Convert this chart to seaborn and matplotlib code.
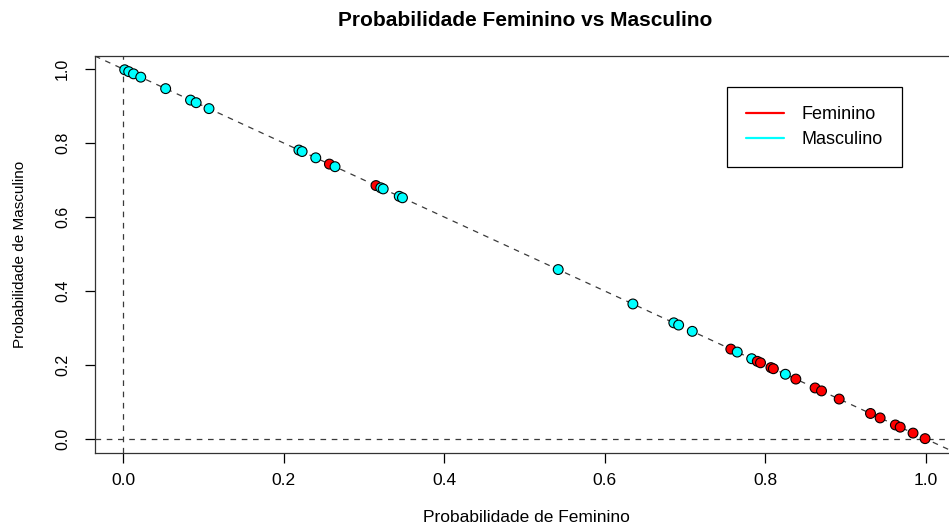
import matplotlib
matplotlib.use("Agg")
import matplotlib.pyplot as plt
from matplotlib.lines import Line2D
import numpy as np
import pandas as pd
import seaborn as sns

# Predicted probabilities per observation, split by observed class
fem_prob_f = [0.257, 0.315, 0.757, 0.790, 0.794, 0.807, 0.810, 0.838, 0.862,
              0.870, 0.892, 0.931, 0.943, 0.962, 0.968, 0.984, 0.999]
masc_prob_f = [0.743, 0.685, 0.243, 0.210, 0.206, 0.193, 0.190, 0.162, 0.138,
               0.130, 0.108, 0.069, 0.057, 0.038, 0.032, 0.016, 0.001]

fem_prob_m = [0.002, 0.007, 0.013, 0.022, 0.053, 0.084, 0.091, 0.107, 0.219,
              0.223, 0.240, 0.264, 0.321, 0.324, 0.344, 0.348, 0.542, 0.635,
              0.686, 0.692, 0.709, 0.765, 0.783, 0.825]
masc_prob_m = [0.998, 0.993, 0.987, 0.978, 0.947, 0.916, 0.909, 0.893, 0.781,
               0.777, 0.760, 0.736, 0.679, 0.676, 0.656, 0.652, 0.458, 0.365,
               0.314, 0.308, 0.291, 0.235, 0.217, 0.175]

classes = ["Feminino", "Masculino"]
colors = {"Feminino": "red", "Masculino": "cyan"}
x_ticks = [0.0, 0.2, 0.4, 0.6, 0.8, 1.0]
y_ticks = [0.0, 0.2, 0.4, 0.6, 0.8, 1.0]

df = pd.concat([
    pd.DataFrame({"fem": fem_prob_f, "masc": masc_prob_f, "sexo": "Feminino"}),
    pd.DataFrame({"fem": fem_prob_m, "masc": masc_prob_m, "sexo": "Masculino"}),
]).sort_values("fem").reset_index(drop=True)

sns.set_style("white")
plt.rcParams["font.family"] = ["Liberation Sans", "DejaVu Sans"]
plt.rcParams["text.color"] = "black"
plt.rcParams["axes.labelcolor"] = "black"
plt.rcParams["xtick.color"] = "black"
plt.rcParams["ytick.color"] = "black"

fig = plt.figure(figsize=(9.49, 5.26), dpi=100)
W, H = 949, 526
left, right, top, bottom = 95, 958, 55.7, 452.7
ax = fig.add_axes([left / W, 1 - bottom / H, (right - left) / W, (bottom - top) / H])

# reference lines
ax.axline((0, 1), slope=-1, color="#3a3a3a", lw=0.9, dashes=(4.5, 4.5), zorder=1)
ax.axvline(0, color="#3a3a3a", lw=0.9, dashes=(4.5, 4.5), zorder=1)
ax.axhline(0, color="#3a3a3a", lw=0.9, dashes=(4.5, 4.5), zorder=1)

sns.scatterplot(data=df, x="fem", y="masc", hue="sexo", hue_order=classes,
                palette=colors, s=50, edgecolor="black", linewidth=0.8,
                legend=False, ax=ax, zorder=3)

ax.set_xlim(-0.035, 1.04)
ax.set_ylim(-0.037, 1.036)
ax.set_xticks(x_ticks)
ax.set_yticks(y_ticks)
ax.set_xticklabels([f"{v:.1f}" for v in x_ticks], fontsize=12.5)
ax.set_yticklabels([f"{v:.1f}" for v in y_ticks], fontsize=11.5, rotation=90, va="center")
ax.tick_params(axis="both", direction="out", length=7, width=0.9, color="black",
               bottom=True, left=True)
ax.tick_params(axis="x", pad=7.5)
ax.tick_params(axis="y", pad=11)
for s in ax.spines.values():
    s.set_color("#333333")
    s.set_linewidth(0.9)

ax.set_xlabel("Probabilidade de Feminino", fontsize=12.5, labelpad=16)
ax.set_ylabel("Probabilidade de Masculino", fontsize=11, labelpad=20)
fig.text(525 / W, 1 - 20 / H, "Probabilidade Feminino vs Masculino",
         ha="center", va="center", fontsize=15, fontweight="bold")

handles = [Line2D([0], [0], color=colors[c], lw=1.6) for c in classes]
leg = ax.legend(handles, classes, loc="upper left",
                bbox_to_anchor=(727 / W, 1 - 87 / H), bbox_transform=fig.transFigure,
                fancybox=False, edgecolor="black", framealpha=1, fontsize=13,
                handlelength=2.1, handletextpad=1.0, borderpad=1.05,
                labelspacing=0.45, borderaxespad=0)
leg.get_frame().set_linewidth(0.9)

fig.savefig("out.png", dpi=100)
